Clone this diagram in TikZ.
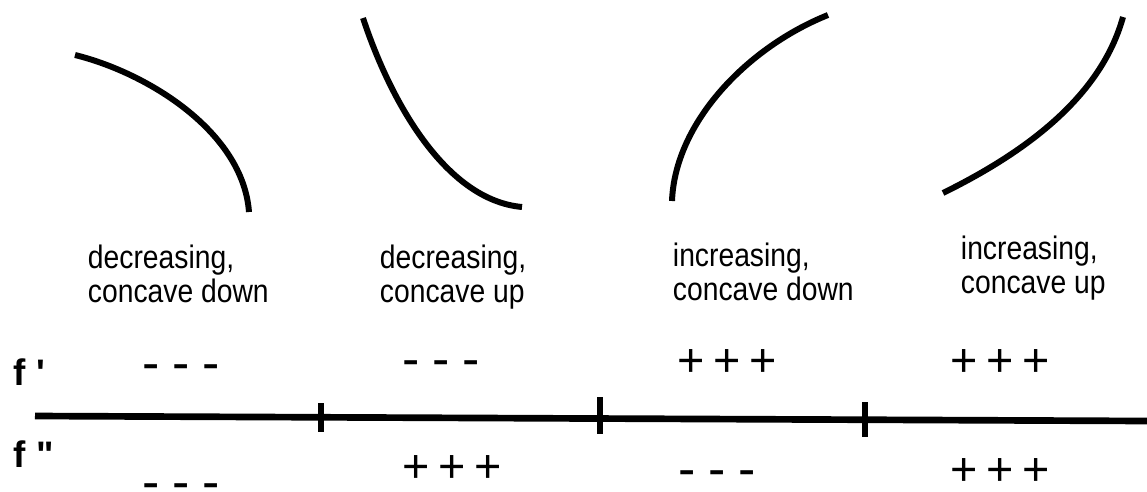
\documentclass[tikz,border=0pt]{standalone}
\usepackage{fontspec}
\setmainfont{Liberation Sans}
\newfontfamily\capfont[FakeStretch=0.87]{Liberation Sans}
\usepackage{tikz}

\newcommand{\threeminus}{-\kern7.2pt-\kern7.2pt-}
\newcommand{\threeplus}{+\kern4.9pt+\kern4.9pt+}

\begin{document}
\begin{tikzpicture}[x=0.02cm,y=-0.02cm,line width=3.4pt,
  caption/.style={anchor=base west,inner sep=0pt,align=left,
    font=\capfont\fontsize{18.5}{19.3}\selectfont},
  minussigns/.style={anchor=base west,inner sep=0pt,text depth=-0.2em,
    font=\fontsize{29.5}{30}\selectfont},
  plussigns/.style={anchor=base west,inner sep=0pt,text depth=0pt,
    font=\fontsize{26.6}{27}\selectfont},
  deriv/.style={anchor=base west,inner sep=0pt,font=\bfseries\fontsize{21}{22}\selectfont}]
\useasboundingbox (0,0) rectangle (1147,491);
% the four curves
\draw (75,55) .. controls (148,73) and (243,132) .. (249,212);
\draw (363,18) .. controls (390,100) and (445,200) .. (522,207);
\draw (672,201) .. controls (675,122) and (748,47) .. (828,15);
\draw (943,193) .. controls (1020,155) and (1100,100) .. (1123,17);
% captions, anchored on the second line
\node[caption] (cap1) at (85,302) {decreasing,\\concave down};
\node[caption] (cap2) at (377,302) {decreasing,\\concave up};
\node[caption] (cap3) at (670,300) {increasing,\\concave down};
\node[caption] (cap4) at (958,293) {increasing,\\concave up};
% number line
\draw[line width=3.8pt] (35,416)--(1147,421);
\draw[line width=2.9pt] (321,403)--(321,432);
\draw[line width=2.9pt] (600,397)--(600,434);
\draw[line width=2.9pt] (865,402)--(865,437);
\node[deriv] (fp) at (11,385) {f \textquotesingle};
\node[deriv] (fpp) at (11,467) {f \textquotedbl};
\node[minussigns] (s11) at (140,380) {\threeminus};
\node[minussigns] (s12) at (400,376) {\threeminus};
\node[plussigns] (s13) at (675,376.5) {\threeplus};
\node[plussigns] (s14) at (948,376.5) {\threeplus};
\node[minussigns] (s21) at (140,499) {\threeminus};
\node[plussigns] (s22) at (400,482.5) {\threeplus};
\node[minussigns] (s23) at (676,486) {\threeminus};
\node[plussigns] (s24) at (948,485.5) {\threeplus};
\end{tikzpicture}
\end{document}
